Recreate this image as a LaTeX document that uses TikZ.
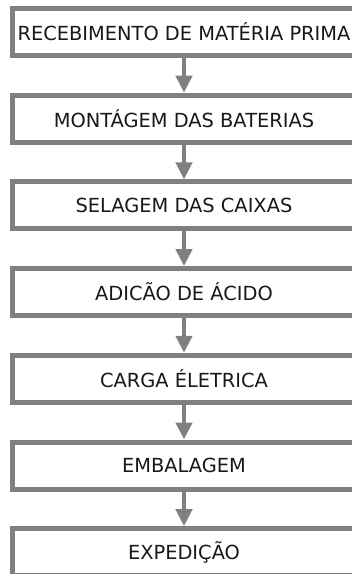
\documentclass[tikz,border=0pt]{standalone}
\usepackage{fontspec}
\setmainfont{DejaVu Sans}
\usetikzlibrary{arrows.meta}
\definecolor{boxgray}{RGB}{128,128,128}
\definecolor{txt}{RGB}{25,25,25}
\tikzset{
  stepbox/.style={draw=boxgray, line width=5pt, fill=white, rectangle,
    minimum width=343pt, minimum height=47pt, inner sep=0pt, outer sep=2.5pt,
    text=txt, font=\fontsize{19.4pt}{23pt}\selectfont, anchor=center},
  flow/.style={draw=boxgray, line width=4.5pt,
    -{Triangle[width=16pt,length=17pt]}, shorten >=0pt}
}
\begin{document}
\begin{tikzpicture}[x=1pt,y=1pt]
\useasboundingbox (0,0) rectangle (352,-574);
\begin{scope}
\clip (0,0) rectangle (352,-574);
\node[stepbox] (b1) at (184,-32) {RECEBIMENTO DE MATÉRIA PRIMA};
\node[stepbox] (b2) at (184,-118.7) {MONTÁGEM DAS BATERIAS};
\node[stepbox] (b3) at (184,-205.4) {SELAGEM DAS CAIXAS};
\node[stepbox] (b4) at (184,-292.1) {ADICÃO DE ÁCIDO};
\node[stepbox] (b5) at (184,-378.8) {CARGA ÉLETRICA};
\node[stepbox] (b6) at (184,-465.5) {EMBALAGEM};
\node[stepbox] (b7) at (184,-552.2) {EXPEDIÇÃO};
\draw[flow] (b1) -- (b2);
\draw[flow] (b2) -- (b3);
\draw[flow] (b3) -- (b4);
\draw[flow] (b4) -- (b5);
\draw[flow] (b5) -- (b6);
\draw[flow] (b6) -- (b7);
\end{scope}
\end{tikzpicture}
\end{document}
